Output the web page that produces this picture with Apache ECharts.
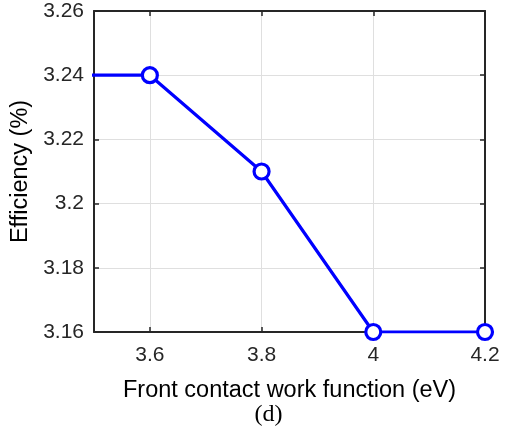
<!DOCTYPE html>
<html><head><meta charset="utf-8">
<script src="https://cdn.jsdelivr.net/npm/echarts@6/dist/echarts.min.js"></script>
<style>html,body{margin:0;padding:0;background:#fff}#c{width:506px;height:430px}</style>
</head><body><div id="c"></div>
<script>
const workFunction = [3.4, 3.6, 3.8, 4.0, 4.2];
const efficiency = [3.24, 3.24, 3.21, 3.16, 3.16];
const xTicks = [3.6, 3.8, 4.0, 4.2];
const xLabel = 'Front contact work function (eV)';
const yLabel = 'Efficiency (%)';
const caption = '(d)';

const chart = echarts.init(document.getElementById('c'), null, {renderer: 'canvas'});
const axisColor = '#262626';
const fmt = v => String(+(+v).toFixed(2));
const data = workFunction.map((x, i) => ({
  value: [x, efficiency[i]],
  symbol: x < 3.5 ? 'none' : 'circle'
}));
chart.setOption({
  animation: false,
  grid: {left: 94, right: 21, top: 11, bottom: 98, containLabel: false},
  xAxis: [{
    type: 'value', min: 3.5, max: 4.2, position: 'bottom',
    name: xLabel, nameLocation: 'middle', nameGap: 47,
    nameTextStyle: {fontFamily: 'Liberation Sans', fontSize: 23.5, color: '#000'},
    axisLine: {show: true, onZero: false, lineStyle: {color: axisColor, width: 2}},
    axisTick: {show: true, inside: true, length: 5, customValues: xTicks, lineStyle: {color: axisColor, width: 1.5}},
    axisLabel: {customValues: xTicks, formatter: fmt, margin: 13, fontFamily: 'Liberation Sans', fontSize: 21, color: '#262626'},
    splitLine: {show: true, lineStyle: {color: '#dfdfdf', width: 1}}
  }, {
    type: 'value', min: 3.5, max: 4.2, position: 'top',
    axisLine: {show: true, onZero: false, lineStyle: {color: axisColor, width: 2}},
    axisTick: {show: true, inside: true, length: 5, customValues: xTicks, lineStyle: {color: axisColor, width: 1.5}},
    axisLabel: {show: false}, splitLine: {show: false}
  }],
  yAxis: [{
    type: 'value', min: 3.16, max: 3.26, interval: 0.02, position: 'left',
    name: yLabel, nameLocation: 'middle', nameGap: 54,
    nameTextStyle: {fontFamily: 'Liberation Sans', fontSize: 23.5, color: '#000'},
    axisLine: {show: true, onZero: false, lineStyle: {color: axisColor, width: 2}},
    axisTick: {show: true, inside: true, length: 5, lineStyle: {color: axisColor, width: 1.5}},
    axisLabel: {formatter: fmt, margin: 10, fontFamily: 'Liberation Sans', fontSize: 21, color: '#262626'},
    splitLine: {show: true, lineStyle: {color: '#dfdfdf', width: 1}}
  }, {
    type: 'value', min: 3.16, max: 3.26, interval: 0.02, position: 'right',
    axisLine: {show: true, onZero: false, lineStyle: {color: axisColor, width: 2}},
    axisTick: {show: true, inside: true, length: 5, lineStyle: {color: axisColor, width: 1.5}},
    axisLabel: {show: false}, splitLine: {show: false}
  }],
  series: [{
    type: 'line', xAxisIndex: 0, yAxisIndex: 0, data: data, clip: true,
    symbol: 'circle', symbolSize: 15, showAllSymbol: true,
    lineStyle: {color: '#0000ff', width: 3.2},
    itemStyle: {color: '#fff', borderColor: '#0000ff', borderWidth: 3.2},
    z: 5
  }],
  graphic: [{
    type: 'text', x: 268.5, y: 415,
    style: {text: caption, fontFamily: 'Liberation Serif', fontSize: 24, fill: '#000', align: 'center', verticalAlign: 'middle'}
  }]
});
</script></body></html>
